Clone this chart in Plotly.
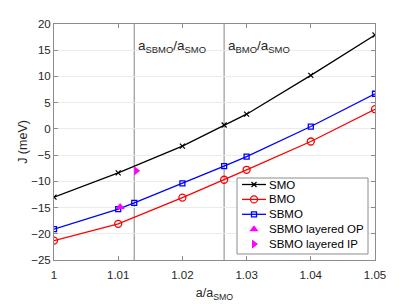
import plotly.graph_objects as go

# data
x_main = [1.00, 1.01, 1.02, 1.0265, 1.03, 1.04, 1.05]
smo = [-13.0, -8.4, -3.3, 0.75, 2.8, 10.2, 17.9]
bmo = [-21.3, -18.1, -13.1, -9.7, -7.8, -2.4, 3.75]
x_sbmo = [1.00, 1.01, 1.0125, 1.02, 1.0265, 1.03, 1.04, 1.05]
sbmo = [-19.1, -15.3, -14.1, -10.4, -7.1, -5.3, 0.45, 6.7]
op_x = [1.0103]
op_y = [-14.9]
ip_x = [1.0128]
ip_y = [-8.0]
ref_x = [1.0125, 1.0265]
ref_labels = ["a<sub>SBMO</sub>/a<sub>SMO</sub>", "a<sub>BMO</sub>/a<sub>SMO</sub>"]
x_ticks = [1.00, 1.01, 1.02, 1.03, 1.04, 1.05]
x_ticklabels = ["1", "1.01", "1.02", "1.03", "1.04", "1.05"]
y_ticks = [-25, -20, -15, -10, -5, 0, 5, 10, 15, 20]

FONT = "Liberation Sans, Arial, sans-serif"
TXT = "#262626"
AXC = "#8c8c8c"

# series styles (name, color, marker symbol, marker size, draw line)
styles = [
    ("SMO", "black", "x-thin", 5, True),
    ("BMO", "#ff0000", "circle-open", 7, True),
    ("SBMO", "#0000ff", "square-open", 5, True),
    ("SBMO layered OP", "#ff00ff", "triangle-up", 8, False),
    ("SBMO layered IP", "#ff00ff", "triangle-right", 8, False),
]
series_xy = [(x_main, smo), (x_main, bmo), (x_sbmo, sbmo), (op_x, op_y), (ip_x, ip_y)]


def marker_for(color, symbol, size):
    if symbol == "x-thin":
        return dict(symbol=symbol, size=size, color=color, line=dict(color=color, width=1.2))
    if symbol.endswith("-open"):
        return dict(symbol=symbol, size=size, color=color, line=dict(color=color, width=1.3))
    return dict(symbol=symbol, size=size, color=color)


fig = go.Figure()
for (name, color, sym, size, has_line), (xs, ys) in zip(styles, series_xy):
    fig.add_trace(go.Scatter(
        x=xs, y=ys, name=name, mode="lines+markers" if has_line else "markers",
        line=dict(color=color, width=1.3), marker=marker_for(color, sym, size),
        showlegend=False, hoverinfo="x+y+name"))

for xv, lab in zip(ref_x, ref_labels):
    fig.add_shape(type="line", x0=xv, x1=xv, xref="x", y0=0, y1=1, yref="paper",
                  line=dict(color="#999999", width=1.2), layer="below")
    fig.add_annotation(x=xv, y=15.8, xref="x", yref="y", text=lab, showarrow=False,
                       xanchor="left", yanchor="middle", xshift=2,
                       font=dict(size=13.5, color=TXT, family=FONT))

# ---- custom legend drawn on an overlay axis measured in plot-area pixels ----
PLOT_W, PLOT_H = 321, 236
LEG_BOX = (183, 314, 154, 230)      # left, right, top, bottom (px inside plot area)
LEG_ROW0, LEG_DY = 160.5, 14.9      # first row centre, row spacing
LEG_L0, LEG_L1, LEG_TX = 188, 212, 213

bx0, bx1, by0, by1 = LEG_BOX
fig.add_trace(go.Scatter(x=[bx0, bx1, bx1, bx0, bx0], y=[by0, by0, by1, by1, by0],
                         xaxis="x2", yaxis="y2", mode="lines", fill="toself",
                         fillcolor="white", line=dict(color=AXC, width=1),
                         showlegend=False, hoverinfo="skip"))
for i, (name, color, sym, size, has_line) in enumerate(styles):
    yy = LEG_ROW0 + i * LEG_DY
    if has_line:
        fig.add_trace(go.Scatter(x=[LEG_L0, LEG_L1], y=[yy, yy], xaxis="x2", yaxis="y2",
                                 mode="lines", line=dict(color=color, width=1.3),
                                 showlegend=False, hoverinfo="skip"))
    fig.add_trace(go.Scatter(x=[(LEG_L0 + LEG_L1) / 2], y=[yy], xaxis="x2", yaxis="y2",
                             mode="markers", marker=marker_for(color, sym, size),
                             showlegend=False, hoverinfo="skip"))
    fig.add_annotation(x=LEG_TX, y=yy, xref="x2", yref="y2", text=name, showarrow=False,
                       xanchor="left", yanchor="middle",
                       font=dict(size=11.5, color="black", family=FONT))

axis_common = dict(showline=True, linecolor=AXC, linewidth=1, mirror="ticks",
                   ticks="inside", ticklen=4, tickcolor=AXC, zeroline=False,
                   automargin=False,
                   tickfont=dict(size=11.5, color=TXT, family=FONT))

fig.update_layout(
    xaxis=dict(range=[1.0, 1.05], tickvals=x_ticks, ticktext=x_ticklabels, showgrid=False,
               ticklabelstandoff=4,
               title=dict(text="a/a<sub>SMO</sub>", font=dict(size=12.5, color=TXT, family=FONT),
                          standoff=8),
               **axis_common),
    yaxis=dict(range=[-25, 20], tickvals=y_ticks, showgrid=True, gridcolor="#ebebeb",
               title=dict(text="J (meV)", font=dict(size=12.5, color=TXT, family=FONT),
                          standoff=0),
               **axis_common),
    xaxis2=dict(overlaying="x", range=[0, PLOT_W], visible=False, fixedrange=True,
                automargin=False),
    yaxis2=dict(overlaying="y", range=[PLOT_H, 0], visible=False, fixedrange=True,
                automargin=False),
    width=407, height=296,
    margin=dict(l=46, r=40, t=16, b=44),
    plot_bgcolor="white", paper_bgcolor="white",
    font=dict(family=FONT, size=11, color=TXT),
    showlegend=False,
)

fig.write_html("out.html")
